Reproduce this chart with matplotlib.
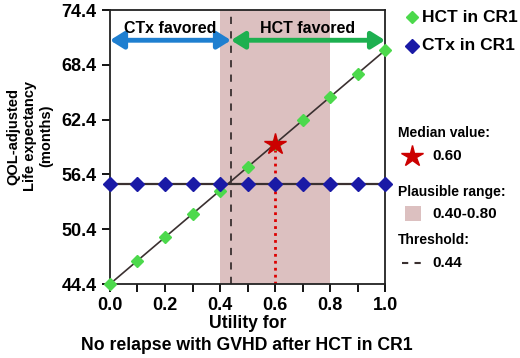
import numpy as np
import matplotlib
matplotlib.use("Agg")
import matplotlib.pyplot as plt
from matplotlib.patches import Rectangle

plt.rcParams['font.family'] = ['Liberation Sans', 'DejaVu Sans']
plt.rcParams['font.weight'] = 'bold'

# data
utility = [0.0, 0.1, 0.2, 0.3, 0.4, 0.5, 0.6, 0.7, 0.8, 0.9, 1.0]
hct_cr1 = [44.4, 46.96, 49.52, 52.08, 54.64, 57.2, 59.76, 62.32, 64.88, 67.44, 70.0]
ctx_cr1 = [55.4, 55.4, 55.4, 55.4, 55.4, 55.4, 55.4, 55.4, 55.4, 55.4, 55.4]
median_value = 0.60
median_le = 59.76
plausible_range = (0.40, 0.80)
threshold = 0.44
y_ticks = [44.4, 50.4, 56.4, 62.4, 68.4, 74.4]
x_ticklabels = ['0.0', '0.2', '0.4', '0.6', '0.8', '1.0']

GREEN = '#4cd94c'
BLUE = '#1a1aa6'
SHADE = '#dcc0c0'
LINE = '#3a3030'

fig = plt.figure(figsize=(5.2, 3.58), dpi=100)
ax = fig.add_axes([0.2115, 0.2067, 0.529, 0.765])

# plausible range shading + threshold
ax.axvspan(plausible_range[0], plausible_range[1], color=SHADE, lw=0, zorder=0)
ax.axvline(threshold, color=LINE, ls=(0, (4, 4)), lw=1.3, zorder=1)

# series
ax.plot(utility, hct_cr1, color=LINE, lw=1.2, zorder=2)
ax.plot(utility, ctx_cr1, color=LINE, lw=1.6, zorder=2)
ax.plot(utility, hct_cr1, ls='none', marker='D', ms=6, color=GREEN, zorder=3, clip_on=False)
ax.plot(utility, ctx_cr1, ls='none', marker='D', ms=7, color=BLUE, zorder=3, clip_on=False)

# median value
ax.plot([median_value, median_value], [44.4, median_le], color='#dd0000', ls=(0, (1, 1.5)), lw=2, zorder=2)
ax.plot(median_value, median_le, marker='*', ms=16, color='#cc0000', zorder=4)

# favored arrows
ax.annotate('', xy=(0.0, 71.1), xytext=(threshold, 71.1),
            arrowprops=dict(arrowstyle='<|-|>,head_length=0.8,head_width=0.5', color='#1f7fd0', lw=3.5, shrinkA=0, shrinkB=0))
ax.annotate('', xy=(threshold, 71.1), xytext=(1.0, 71.1),
            arrowprops=dict(arrowstyle='<|-|>,head_length=0.8,head_width=0.5', color='#1db050', lw=3.5, shrinkA=0, shrinkB=0))
ax.text(threshold / 2, 72.4, 'CTx favored', ha='center', va='center', fontsize=11.5, fontweight='bold')
ax.text((threshold + 1.0) / 2, 72.4, 'HCT favored', ha='center', va='center', fontsize=11.5, fontweight='bold')

ax.set_xlim(0.0, 1.0)
ax.set_ylim(44.4, 74.4)
ax.set_xticks(np.arange(0, 1.01, 0.1), minor=True)
ax.set_xticks(np.arange(0, 1.01, 0.2))
ax.set_xticklabels(x_ticklabels)
ax.set_yticks(y_ticks)
ax.set_yticklabels([f'{v:.1f}' for v in y_ticks])
ax.tick_params(axis='both', which='major', labelsize=13, length=6, width=1.3, direction='out')
ax.tick_params(axis='x', which='minor', length=6, width=1.3, direction='out')
for s in ax.spines.values():
    s.set_linewidth(1.3)
    s.set_color('#222222')

fig.text(248 / 520, 1 - 323 / 358, 'Utility for', ha='center', va='center', fontsize=12.7, fontweight='bold')
fig.text(247 / 520, 1 - 345 / 358, 'No relapse with GVHD after HCT in CR1', ha='center', va='center', fontsize=12.7, fontweight='bold')
fig.text(30 / 520, 1 - 136 / 358, 'QOL-adjusted\nLife expectancy\n(months)', ha='center', va='center',
         rotation=90, fontsize=10.5, fontweight='bold', linespacing=1.2)

# legend panel (pixel coords)
lax = fig.add_axes([0, 0, 1, 1], zorder=-1)
lax.set_xlim(0, 520)
lax.set_ylim(358, 0)
lax.axis('off')
lax.plot(412, 17, marker='D', ms=6, color=GREEN, ls='none')
lax.text(422, 17, 'HCT in CR1', va='center', fontsize=12.5, fontweight='bold')
lax.plot(412, 46, marker='D', ms=7, color=BLUE, ls='none')
lax.text(422, 46, 'CTx in CR1', va='center', fontsize=12.5, fontweight='bold')
lax.text(398, 133, 'Median value:', va='center', fontsize=10, fontweight='bold')
lax.plot(412, 156, marker='*', ms=16, color='#cc0000', ls='none')
lax.text(432, 156, '0.60', va='center', fontsize=11, fontweight='bold')
lax.text(398, 192, 'Plausible range:', va='center', fontsize=10, fontweight='bold')
lax.add_patch(Rectangle((405, 206), 16, 15, color=SHADE, lw=0))
lax.text(432, 214, '0.40-0.80', va='center', fontsize=11, fontweight='bold')
lax.text(398, 240, 'Threshold:', va='center', fontsize=10, fontweight='bold')
lax.plot([402, 421], [263, 263], color=LINE, ls=(0, (3, 3)), lw=1.5)
lax.text(432, 263, '0.44', va='center', fontsize=11, fontweight='bold')

fig.savefig('out.png', dpi=100)
